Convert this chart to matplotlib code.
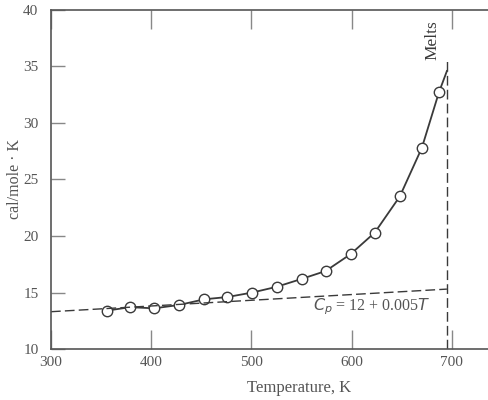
import matplotlib.pyplot as plt

temp = [356, 379, 403, 428, 453, 476, 501, 525, 550, 574, 599, 623, 648, 670, 687]
cp = [13.4, 13.7, 13.6, 13.9, 14.4, 14.6, 15.0, 15.5, 16.2, 16.9, 18.4, 20.3, 23.5, 27.8, 32.7]
curve_end_t = 695
curve_end_cp = 34.6

# dashed line Cp = 12 + 0.005T, end points
line_t = [300, 695]
line_cp = [13.3, 15.3]
melt_t = 695

ink = '#3a3a3a'
plt.rcParams['font.family'] = ['Liberation Serif', 'DejaVu Serif']

fig = plt.figure(figsize=(4.88, 4.0), dpi=100)
ax = fig.add_axes([0.1045, 0.1275, 0.8955, 0.8475])

ax.plot(temp + [curve_end_t], cp + [curve_end_cp], '-', color=ink, lw=1.3)
ax.plot(temp, cp, 'o', mfc='white', mec=ink, mew=1.0, ms=7.5)
ax.plot(line_t, line_cp, '--', color=ink, lw=1.0, dashes=(7, 3))
ax.plot([melt_t, melt_t], [10, 35.5], '--', color=ink, lw=1.0, dashes=(7, 3))

ax.text(melt_t - 14, 37.3, 'Melts', rotation=90, ha='center', va='center',
        fontsize=12.5, color=ink)
ax.text(620, 13.7, r'$C_p$ = 12 + 0.005$T$', ha='center', va='center',
        fontsize=11.5, color='#555555')

ax.set_xlim(300, 736)
ax.set_ylim(10, 40)
ax.set_xticks([300, 400, 500, 600, 700])
ax.set_yticks([10, 15, 20, 25, 30, 35, 40])
ax.tick_params(direction='in', length=14, width=1.0, colors='#888888',
               labelcolor='#555555', labelsize=11, top=True)
ax.tick_params(axis='x', pad=5)
ax.tick_params(axis='y', length=10, pad=9)
for s in ['left', 'bottom', 'top']:
    ax.spines[s].set_color('#555555')
    ax.spines[s].set_linewidth(1.2)
ax.spines['right'].set_visible(False)

ax.set_xlabel('Temperature, K', fontsize=12, color='#555555')
ax.xaxis.set_label_coords(0.567, -0.09)
ax.set_ylabel('cal/mole · K', fontsize=11.5, color='#555555')
ax.yaxis.set_label_coords(-0.064, 0.5)

fig.savefig('out.png', dpi=100)
